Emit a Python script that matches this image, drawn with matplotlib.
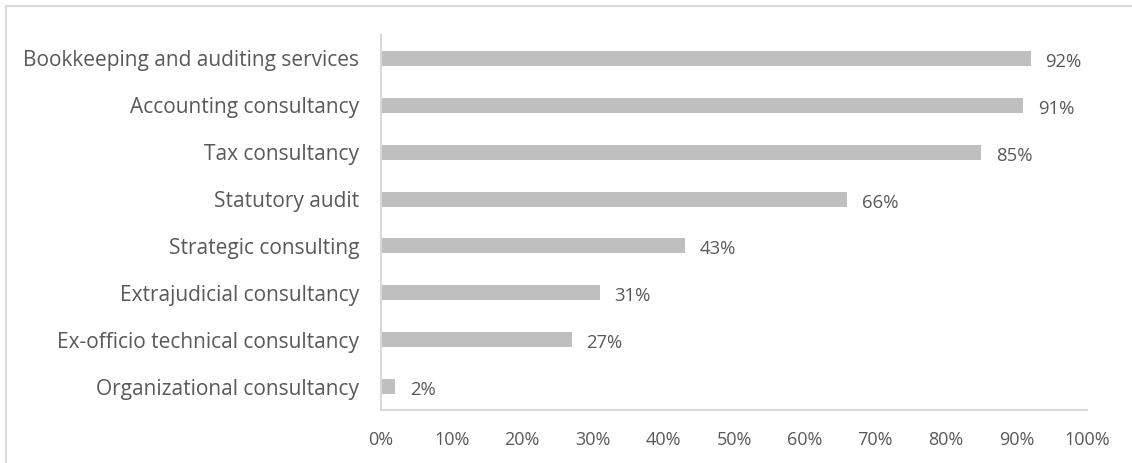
import matplotlib
matplotlib.use("Agg")
import matplotlib.pyplot as plt
from matplotlib.patches import Rectangle

# Share of firms offering each service
services = [
    "Bookkeeping and auditing services",
    "Accounting consultancy",
    "Tax consultancy",
    "Statutory audit",
    "Strategic consulting",
    "Extrajudicial consultancy",
    "Ex-officio technical consultancy",
    "Organizational consultancy",
]
shares = [92, 91, 85, 66, 43, 31, 27, 2]
x_ticks = [0, 10, 20, 30, 40, 50, 60, 70, 80, 90, 100]

bar_color = "#BFBFBF"
line_color = "#D9D9D9"
text_color = "#595959"

plt.rcParams["font.family"] = ["Open Sans", "DejaVu Sans"]

W, H = 1132, 463
fig = plt.figure(figsize=(W / 100, H / 100), dpi=100)

# outer chart frame (runs off the right and bottom edges)
fig.patches.append(Rectangle((5.5 / W, -0.1), 2, 1 - 5.5 / H + 0.1,
                             transform=fig.transFigure, fill=False,
                             edgecolor=line_color, linewidth=1.5))

ax = fig.add_axes([381 / W, 1 - 410 / H, (1087 - 381) / W, (410 - 35) / H])
ypos = list(range(len(services)))
ax.barh(ypos, shares, height=0.32, color=bar_color)

for y, v in zip(ypos, shares):
    ax.annotate(f"{v}%", (v, y), xytext=(10.5, -2.5), textcoords="offset points",
                va="center", ha="left", fontsize=13.3, color=text_color)

ax.set_xlim(0, 100)
ax.set_ylim(len(services) - 0.5, -0.5)
ax.set_yticks(ypos)
ax.set_yticklabels(services, fontsize=15)
ax.set_xticks(x_ticks)
ax.set_xticklabels([f"{t}%" for t in x_ticks], fontsize=13)
ax.tick_params(axis="both", length=0, colors=text_color)
ax.tick_params(axis="y", pad=15.8)
ax.tick_params(axis="x", pad=15)

for side in ["top", "right"]:
    ax.spines[side].set_visible(False)
for side in ["left", "bottom"]:
    ax.spines[side].set_color(line_color)
    ax.spines[side].set_linewidth(1.5)

fig.savefig("out.png", dpi=100)
